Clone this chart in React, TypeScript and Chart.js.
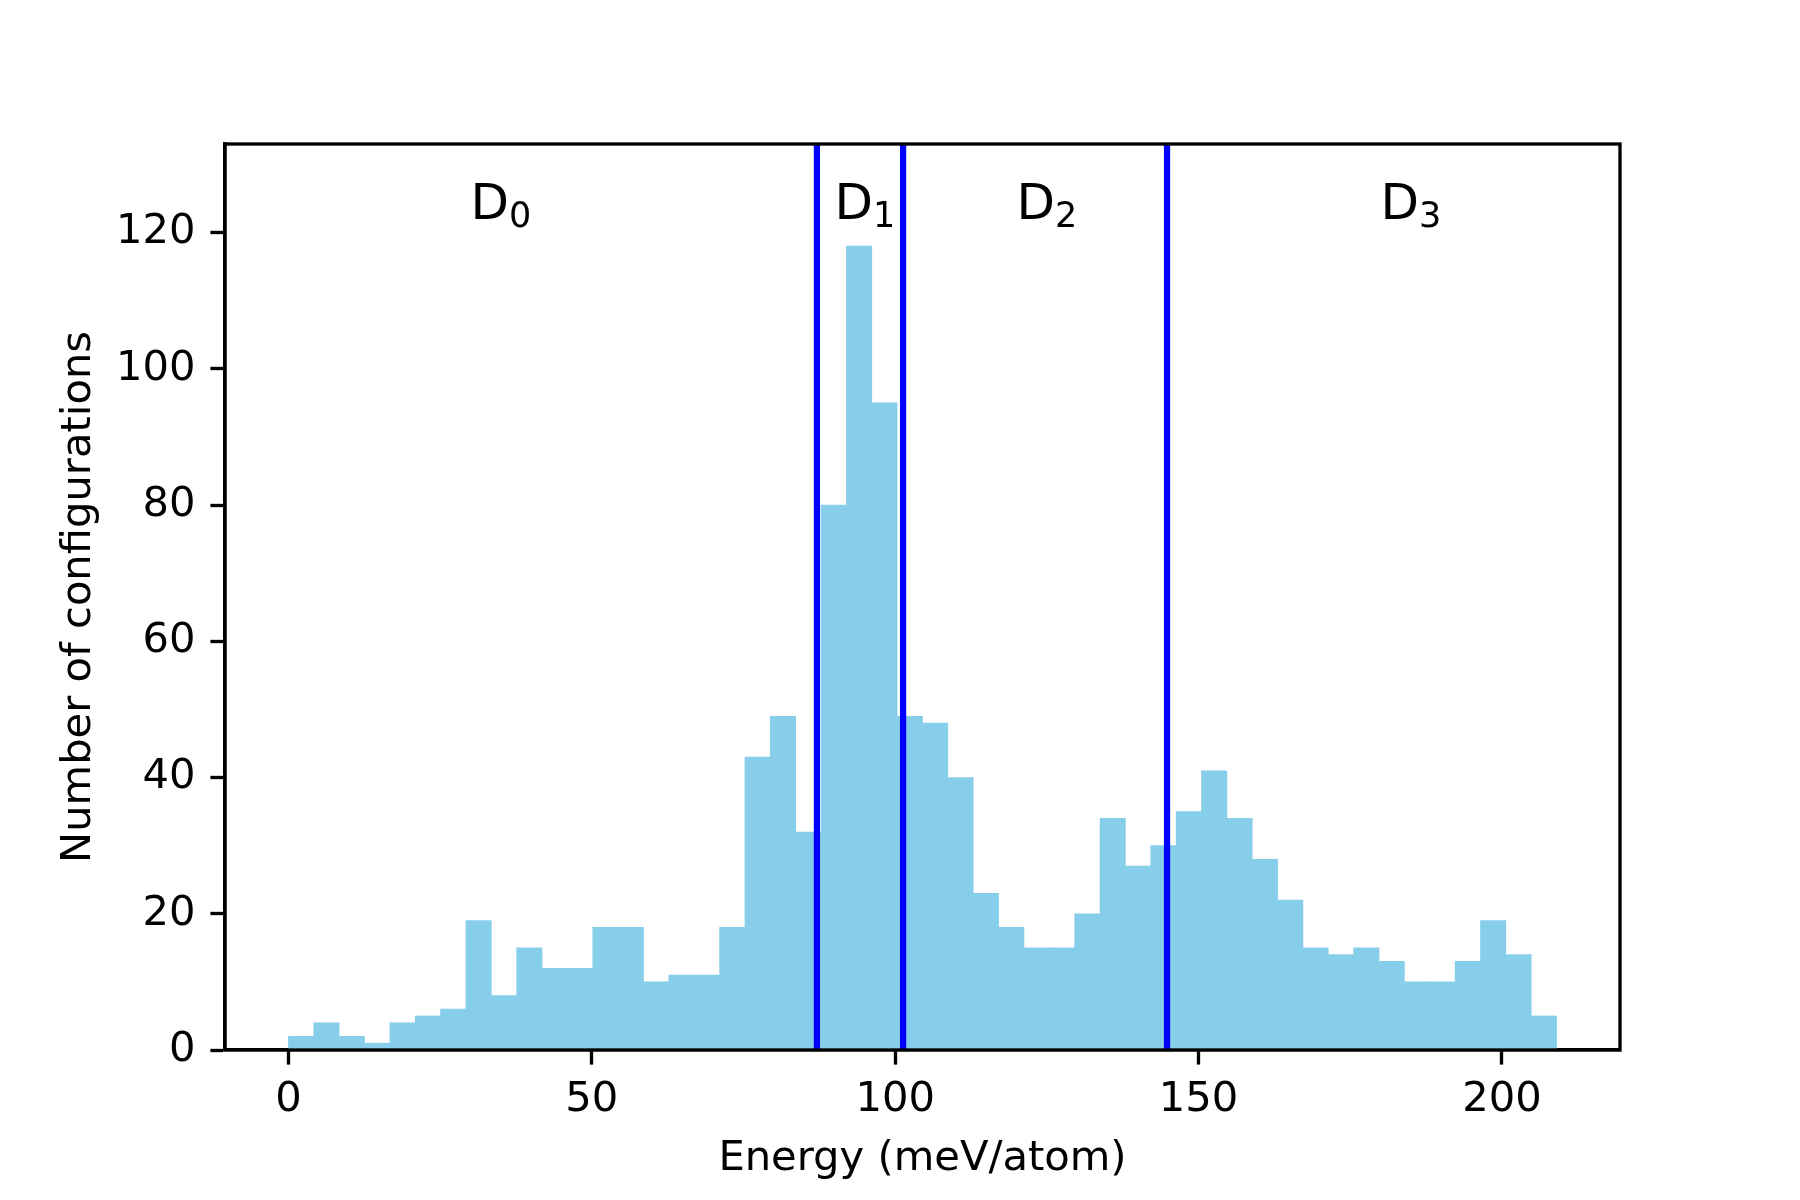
import React, { useEffect, useRef } from 'react';
import { Chart, registerables } from 'chart.js';

Chart.register(...registerables);

// Histogram: 50 bins of equal width starting at 0 meV/atom
const binStart = 0;
const binWidth = 4.18;
const counts = [
  2, 4, 2, 1, 4, 5, 6, 19, 8, 15,
  12, 12, 18, 18, 10, 11, 11, 18, 43, 49,
  32, 80, 118, 95, 49, 48, 40, 23, 18, 15,
  15, 20, 34, 27, 30, 35, 41, 34, 28, 22,
  15, 14, 15, 13, 10, 10, 13, 19, 14, 5,
];

// Region boundaries (vertical lines)
const boundaries = [87.1, 101.3, 144.8];

// Region labels
const regionX = [30, 90, 120, 180];
const regionY = 122;
const regionMain = 'D';
const regionSub = ['0', '1', '2', '3'];

// Axes
const xTicks = [0, 50, 100, 150, 200];
const yTicks = [0, 20, 40, 60, 80, 100, 120];
const xMin = -10.45;
const xMax = 219.45;
const yMin = 0;
const yMax = 133;

const xTitle = 'Energy (meV/atom)';
const yTitle = 'Number of configurations';

const FONT = "'DejaVu Sans', 'Liberation Sans', sans-serif";
const PT = 300 / 72;

const framePlugin = {
  id: 'frame',
  afterDraw(chart: any) {
    const { ctx, chartArea } = chart;
    ctx.save();
    ctx.strokeStyle = '#000';
    ctx.lineWidth = 0.8 * PT;
    ctx.lineJoin = 'miter';
    ctx.strokeRect(chartArea.left, chartArea.top, chartArea.right - chartArea.left, chartArea.bottom - chartArea.top);
    ctx.restore();
  },
};

const regionLabelPlugin = {
  id: 'regionLabels',
  afterDatasetsDraw(chart: any) {
    const { ctx, scales } = chart;
    const xs = scales.x;
    const ys = scales.y;
    ctx.save();
    ctx.fillStyle = '#000';
    ctx.textAlign = 'left';
    ctx.textBaseline = 'alphabetic';
    regionX.forEach((v, i) => {
      const px = xs.getPixelForValue(v);
      const py = ys.getPixelForValue(regionY);
      ctx.font = `${12 * PT}px ${FONT}`;
      ctx.fillText(regionMain, px, py);
      const w = ctx.measureText(regionMain).width;
      ctx.font = `${12 * 0.7 * PT}px ${FONT}`;
      ctx.fillText(regionSub[i], px + w, py + 8);
    });
    ctx.restore();
  },
};

export default function App() {
  const canvasRef = useRef<HTMLCanvasElement | null>(null);

  useEffect(() => {
    document.body.style.margin = '0';
    const canvas = canvasRef.current;
    if (!canvas) return;

    const barData = counts.map((c, i) => ({ x: binStart + (i + 0.5) * binWidth, y: c }));
    const lineSets = boundaries.map((b) => ({
      type: 'line' as const,
      data: [
        { x: b, y: yMin },
        { x: b, y: yMax },
      ],
      borderColor: '#0000ff',
      backgroundColor: '#0000ff',
      borderWidth: 1.5 * PT,
      pointRadius: 0,
      fill: false,
      order: 0,
    }));

    const tickFont = { family: FONT, size: 10 * PT };

    const chart = new Chart(canvas, {
      type: 'bar',
      data: {
        datasets: [
          {
            type: 'bar',
            data: barData,
            backgroundColor: '#87ceeb',
            borderWidth: 0,
            barPercentage: 1,
            categoryPercentage: 1,
            order: 1,
          } as any,
          ...lineSets,
        ],
      },
      options: {
        animation: false,
        responsive: false,
        devicePixelRatio: 1,
        layout: { padding: { left: 0, top: 144, right: 180, bottom: 0 } },
        plugins: {
          legend: { display: false },
          tooltip: { enabled: false },
        },
        scales: {
          x: {
            type: 'linear',
            min: xMin,
            max: xMax,
            offset: false,
            afterBuildTicks: (s: any) => {
              s.ticks = xTicks.map((v) => ({ value: v }));
            },
            afterFit: (s: any) => {
              s.height = 150;
            },
            grid: {
              offset: false,
              drawOnChartArea: false,
              drawTicks: true,
              tickLength: 3.5 * PT,
              tickWidth: 0.8 * PT,
              tickColor: '#000',
            },
            border: { display: true, color: '#000', width: 0.8 * PT },
            ticks: { color: '#000', font: tickFont, padding: 11, maxRotation: 0, autoSkip: false },
            title: {
              display: true,
              text: xTitle,
              color: '#000',
              font: tickFont,
              padding: { top: 0, bottom: 16 },
            },
          },
          y: {
            type: 'linear',
            min: yMin,
            max: yMax,
            afterBuildTicks: (s: any) => {
              s.ticks = yTicks.map((v) => ({ value: v }));
            },
            afterFit: (s: any) => {
              s.width = 225;
            },
            grid: {
              drawOnChartArea: false,
              drawTicks: true,
              tickLength: 3.5 * PT,
              tickWidth: 0.8 * PT,
              tickColor: '#000',
            },
            border: { display: true, color: '#000', width: 0.8 * PT },
            ticks: { color: '#000', font: tickFont, padding: 15, autoSkip: false },
            title: {
              display: true,
              text: yTitle,
              color: '#000',
              font: tickFont,
              padding: { top: 54, bottom: 0 },
            },
          },
        },
      } as any,
      plugins: [regionLabelPlugin, framePlugin],
    });

    return () => {
      chart.destroy();
    };
  }, []);

  return (
    <div style={{ position: 'absolute', left: 0, top: 0, width: 1800, height: 1200, background: '#fff' }}>
      <canvas ref={canvasRef} width={1800} height={1200} style={{ width: 1800, height: 1200, display: 'block' }} />
    </div>
  );
}
